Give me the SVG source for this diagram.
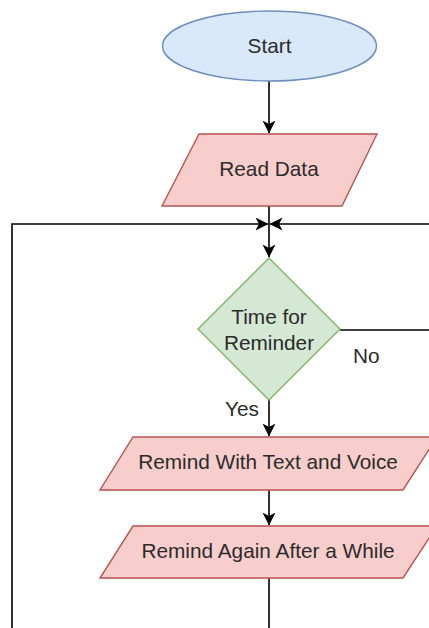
<svg xmlns="http://www.w3.org/2000/svg" width="429" height="628" viewBox="0 0 429 628">
  <style>
    .lbl { font-family: "Liberation Sans", Arial, sans-serif; font-size: 20.8px; fill: #2b2b2b; text-anchor: middle; }
    .edge-lbl { font-family: "Liberation Sans", Arial, sans-serif; font-size: 20.8px; fill: #2b2b2b; }
    .io { fill: #f8cecc; stroke: #b85450; stroke-width: 1.4; }
    .term { fill: #dae8fc; stroke: #6c8ebf; stroke-width: 1.4; }
    .dec { fill: #d5e8d4; stroke: #82b366; stroke-width: 1.4; }
    .wire { fill: none; stroke: #000; stroke-width: 1.6; }
  </style>
  <defs>
    <marker id="arrow" viewBox="0 0 13 13" refX="12.5" refY="6.5" markerWidth="13" markerHeight="13" markerUnits="userSpaceOnUse" orient="auto">
      <path d="M0,0 L13,6.5 L0,13 L3.5,6.5 z" fill="#000"/>
    </marker>
  </defs>

  <rect width="429" height="628" fill="#fff"/>

  <g id="connectors">
    <path class="wire" d="M269,81 L269,133" marker-end="url(#arrow)"/>
    <path class="wire" d="M269,206 L269,257" marker-end="url(#arrow)"/>
    <path class="wire" d="M12,628 L12,224 L268,224" marker-end="url(#arrow)"/>
    <path class="wire" d="M340,330 L429,330"/>
    <path class="wire" d="M429,224 L270,224" marker-end="url(#arrow)"/>
    <path class="wire" d="M269,400 L269,436" marker-end="url(#arrow)"/>
    <path class="wire" d="M269,490 L269,525" marker-end="url(#arrow)"/>
    <path class="wire" d="M269,578 L269,628"/>
    <text class="edge-lbl" x="353" y="363">No</text>
    <text class="edge-lbl" x="225" y="416">Yes</text>
  </g>

  <g id="start">
    <ellipse class="term" cx="269.5" cy="46" rx="107" ry="35"/>
    <text class="lbl" x="269.5" y="53">Start</text>
  </g>

  <g id="read-data">
    <polygon class="io" points="199,134 377,134 342,206 162,206"/>
    <text class="lbl" x="269" y="176">Read Data</text>
  </g>

  <g id="time-check">
    <polygon class="dec" points="269,258 340,329 269,400 198,329"/>
    <text class="lbl" x="269" y="324">Time for</text>
    <text class="lbl" x="269" y="350">Reminder</text>
  </g>

  <g id="remind-text-voice">
    <polygon class="io" points="133,437 437,437 403,490 100,490"/>
    <text class="lbl" x="268" y="469">Remind With Text and Voice</text>
  </g>

  <g id="remind-again">
    <polygon class="io" points="133,526 437,526 403,578 100,578"/>
    <text class="lbl" x="268" y="558">Remind Again After a While</text>
  </g>
</svg>
